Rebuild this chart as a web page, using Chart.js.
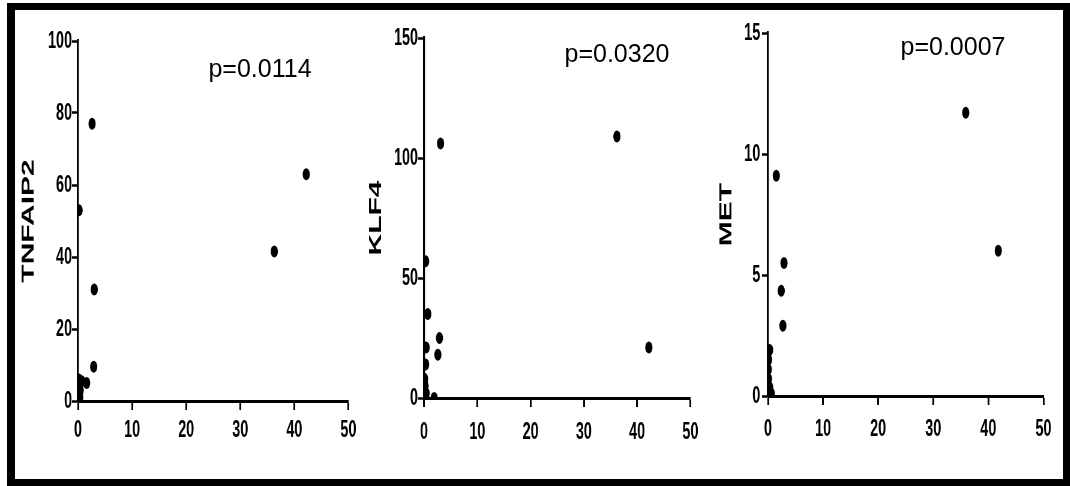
<!DOCTYPE html>
<html>
<head>
<meta charset="utf-8">
<script src="https://cdn.jsdelivr.net/npm/chart.js@4.4.1/dist/chart.umd.min.js"></script>
<style>
  html, body { margin: 0; padding: 0; background: #fff; }
  body { width: 1070px; height: 486px; position: relative; overflow: hidden; }
  #frame { position: absolute; left: 7px; top: 3px; width: 1063px; height: 483px;
           box-sizing: border-box; border-style: solid; border-color: #000;
           border-width: 7px 7px 7px 8px; background: #fff; }
  .wrap { position: absolute; top: 10px; height: 469px; transform: scaleX(0.6); transform-origin: 0 0; }
  .pval { position: absolute; width: 160px; text-align: center;
          font-family: 'Liberation Sans', Arial, sans-serif; font-size: 25px;
          line-height: 25px; color: #000; white-space: nowrap; }
</style>
</head>
<body>
<div id="frame"></div>
<div class="wrap" id="w1" style="left:15px;width:575px"><canvas id="c1" width="575" height="469"></canvas></div>
<div class="wrap" id="w2" style="left:360px;width:575px"><canvas id="c2" width="575" height="469"></canvas></div>
<div class="wrap" id="w3" style="left:705px;width:597px"><canvas id="c3" width="597" height="469"></canvas></div>
<div class="pval" style="left:180px;top:56px"></div>
<div class="pval" style="left:537px;top:41px"></div>
<div class="pval" style="left:873px;top:34px"></div>
<script>
// ---- data ----
const xTickValues = [0, 10, 20, 30, 40, 50];

const tnfaip2Label = 'TNFAIP2';
const tnfaip2X = [2.6, 42.2, 36.3, 0.2, 3.0, 2.9, 0.2, 0.7, 1.6, 0.1, 0.4, 0.2, 0.3];
const tnfaip2Y = [77, 63, 41.5, 53, 31, 9.5, 6, 5.5, 5, 4.5, 3, 2, 1];
const tnfaip2YTicks = [0, 20, 40, 60, 80, 100];

const klf4Label = 'KLF4';
const klf4X = [3.1, 36.2, 42.2, 0.3, 0.7, 2.9, 2.6, 0.4, 0.3, 0.1, 0.2, 0.4, 0.1, 1.9];
const klf4Y = [106, 109, 21, 57, 35, 25, 18, 21, 14, 8, 5, 2, 0.5, 0];
const klf4YTicks = [0, 50, 100, 150];

const metLabel = 'MET';
const metX = [35.9, 41.8, 1.5, 2.9, 2.4, 2.7, 0.3, 0.1, 0.05, 0.1, 0.3, 0.6, 0.2];
const metY = [11.7, 6.0, 9.1, 5.5, 4.35, 2.9, 1.9, 1.5, 1.1, 0.7, 0.35, 0.1, 0.05];
const metYTicks = [0, 5, 10, 15];

const pValues = ['p=0.0114', 'p=0.0320', 'p=0.0007'];

// ---- chart builder ----
const tickFont = { family: "'Liberation Sans', Arial, sans-serif", size: 24, weight: 'bold' };
const titleFont = { family: "'Liberation Sans', Arial, sans-serif", size: 30, weight: 'bold' };

function makeChart(canvasId, xs, ys, yTicks, label, lay) {
  const pts = xs.map((x, i) => ({ x: x, y: ys[i] }));
  return new Chart(document.getElementById(canvasId), {
    type: 'scatter',
    data: { datasets: [{ label: label, data: pts, backgroundColor: '#000', borderColor: '#000',
                         pointRadius: 6, pointBorderWidth: 0 }] },
    options: {
      responsive: false, animation: false, events: [],
      layout: { padding: { left: lay.pl, top: lay.pt, right: lay.pr, bottom: lay.pb } },
      plugins: { legend: { display: false }, tooltip: { enabled: false } },
      scales: {
        x: {
          type: 'linear', min: xTickValues[0], max: xTickValues[xTickValues.length - 1],
          afterBuildTicks: s => { s.ticks = xTickValues.map(v => ({ value: v })); },
          afterFit: s => { s.height = 60; },
          grid: { drawOnChartArea: false, drawTicks: true, tickLength: 9, tickWidth: 3, tickColor: '#000' },
          border: { display: true, color: '#000', width: 3 },
          ticks: { color: '#000', font: tickFont, padding: lay.xpad, maxRotation: 0, autoSkip: false }
        },
        y: {
          type: 'linear', min: yTicks[0], max: yTicks[yTicks.length - 1],
          afterBuildTicks: s => { s.ticks = yTicks.map(v => ({ value: v })); },
          afterFit: s => { s.width = lay.yw; },
          grid: { drawOnChartArea: false, drawTicks: true, tickLength: 10, tickWidth: 2.5, tickColor: '#000' },
          border: { display: true, color: '#000', width: 3.3 },
          ticks: { color: '#000', font: tickFont, padding: lay.ypad, autoSkip: false },
          title: { display: true, text: label, color: '#000', font: titleFont, padding: { top: 0, bottom: 0 } }
        }
      }
    }
  });
}

makeChart('c1', tnfaip2X, tnfaip2Y, tnfaip2YTicks, tnfaip2Label,
  { pl: 5, pt: 31, pr: 16.7, pb: 18, yw: 100, xpad: 6, ypad: 0 });
makeChart('c2', klf4X, klf4Y, klf4YTicks, klf4Label,
  { pl: 8.7, pt: 28, pr: 14, pb: 21, yw: 98, xpad: 11, ypad: 0 });
makeChart('c3', metX, metY, metYTicks, metLabel,
  { pl: 17.8, pt: 23, pr: 33, pb: 23, yw: 87.2, xpad: 10, ypad: 3 });

document.querySelectorAll('.pval').forEach((el, i) => { el.textContent = pValues[i]; });
</script>
</body>
</html>
